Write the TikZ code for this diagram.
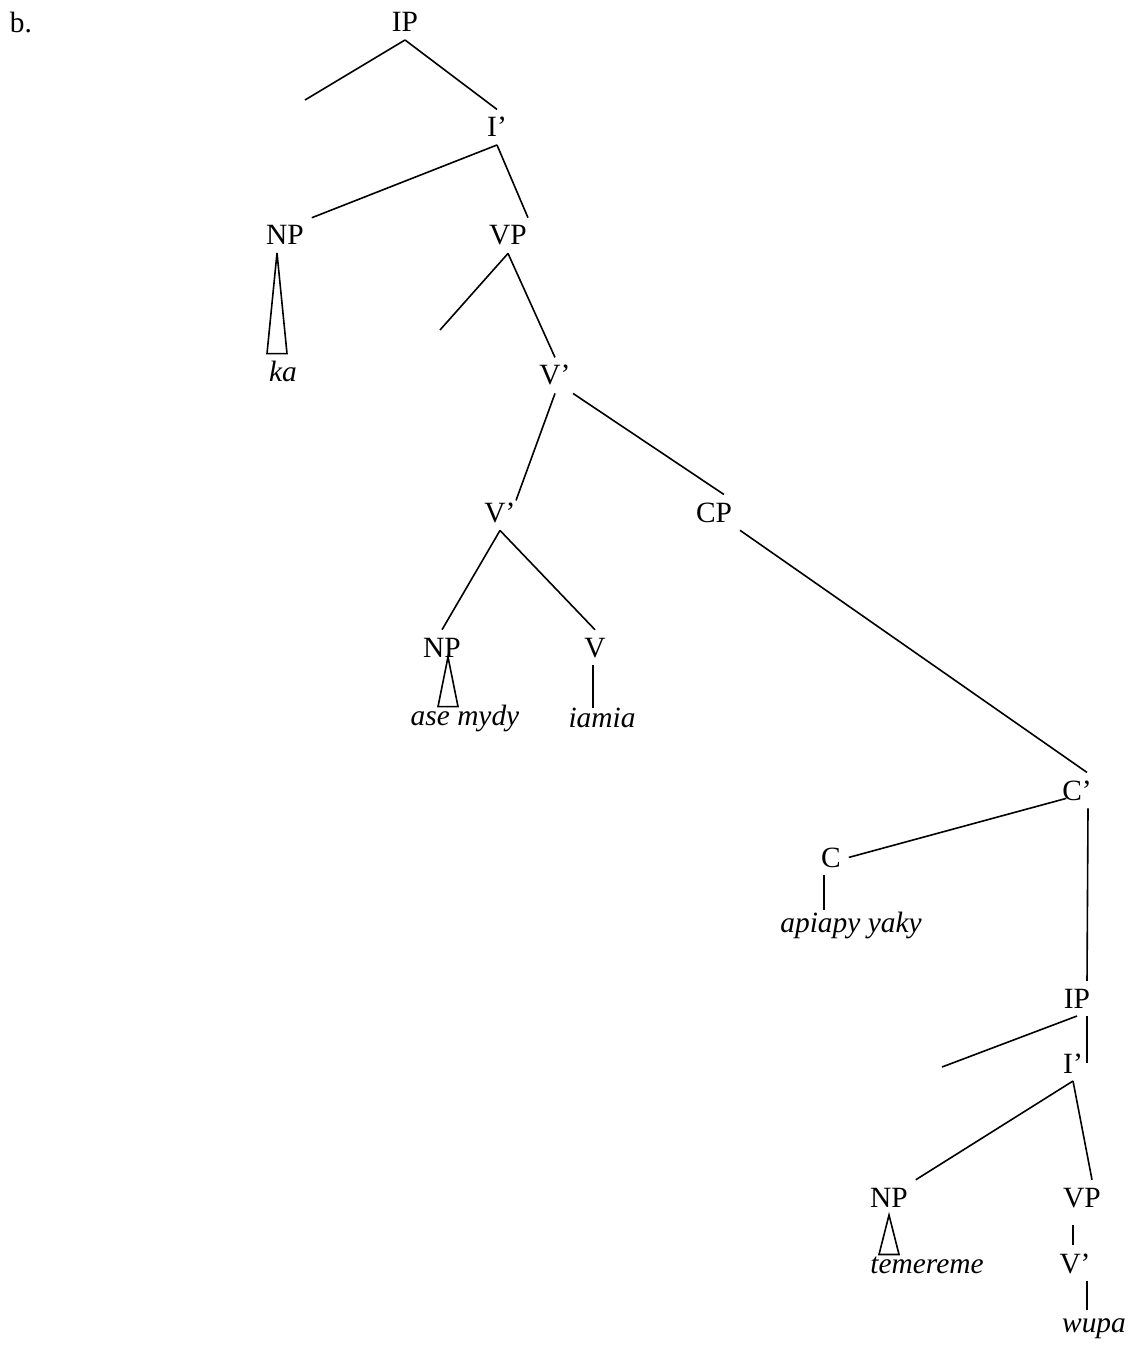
\documentclass[tikz,border=0pt]{standalone}
\usepackage{fontspec}
\setmainfont{Liberation Serif}
\usetikzlibrary{calc}

\begin{document}
\begin{tikzpicture}[x=0.5pt,y=-0.5pt,line width=0.8pt,
    cat/.style={anchor=base,inner sep=2pt,outer sep=2pt,font=\fontsize{14.7}{17}\selectfont},
    word/.style={cat,font=\fontsize{14.7}{17}\selectfont\itshape}]
    \useasboundingbox (0,0) rectangle (1131,1347);

    % Example label
    \node[cat] (lbl) at (21,33) {b.};

    % Matrix IP
    \node[cat] (ip1) at (405,32) {IP};
    \coordinate (spec1) at (305,100);
    \node[cat] (ibar1) at (497,137) {I’};
    \draw (ip1.south) -- (spec1);
    \draw (ip1.south) -- (ibar1.north);

    % Subject NP and VP
    \node[cat] (np1) at (285,245) {NP};
    \node[word] (ka) at (283,382) {ka};
    \node[cat] (vp1) at (508,245) {VP};
    \draw (ibar1.south) -- (np1.north east);
    \draw (ibar1.south) -- ($(vp1.north)+(10pt,0)$);
    \draw ($(np1.south)+(-4pt,0)$) -- ($(np1.south |- ka.north)+(-9pt,0)$)
        -- ($(np1.south |- ka.north)+(1pt,0)$) -- cycle;

    % Upper V'
    \coordinate (spec2) at (440,330);
    \node[cat] (vbar1) at (555,385) {V’};
    \draw (vp1.south) -- (spec2);
    \draw (vp1.south) -- (vbar1.north);

    % Lower V' and CP
    \node[cat] (vbar2) at (500,522) {V’};
    \node[cat] (cp) at (714,522) {CP};
    \draw (vbar1.south) -- ($(vbar2.north)+(8pt,-3pt)$);
    \draw ($(vbar1.south)+(9pt,0)$) -- ($(cp.north)+(5pt,0)$);

    % Object NP and verb
    \node[cat] (np2) at (442,657) {NP};
    \node[word] (asemydy) at (465,725) {ase mydy};
    \node[cat] (v) at (595,657) {V};
    \node[word] (iamia) at (602,727) {iamia};
    \draw (vbar2.south) -- (np2.north);
    \draw (vbar2.south) -- (v.north);
    \draw ($(np2.south)+(3pt,4pt)$) -- ($(np2.south |- asemydy.north)+(-2pt,-5pt)$)
        -- ($(np2.south |- asemydy.north)+(8pt,-5pt)$) -- cycle;
    \draw ($(v.south)+(-1pt,0)$) -- ($(v.south |- iamia.north)+(-1pt,-4pt)$);

    % Embedded CP
    \node[cat] (cbar) at (1077,800) {C’};
    \node[cat] (c) at (831,867) {C};
    \node[word] (apiapy) at (851,932) {apiapy yaky};
    \draw (cp.south east) -- ($(cbar.north)+(5pt,0)$);
    \draw ($(cbar.west)+(6pt,-4pt)$) -- (c.east);
    \draw ($(c.south)+(-3.5pt,0)$) -- ($(c.south |- apiapy.north)+(-3.5pt,-3pt)$);

    % Embedded IP
    \node[cat] (ip2) at (1077,1008) {IP};
    \coordinate (spec3) at (942,1067);
    \node[cat] (ibar2) at (1073,1073) {I’};
    \draw ($(cbar.south)+(5.5pt,0)$) -- ($(ip2.north)+(5pt,0)$);
    \draw (ip2.south) -- (spec3);
    \draw ($(ip2.south)+(5pt,0)$) -- ($(ip2.south |- ibar2.center)+(5pt,0)$);

    % Embedded subject and VP
    \node[cat] (np3) at (889,1207) {NP};
    \node[word] (temereme) at (927,1273) {temereme};
    \node[cat] (vp3) at (1082,1207) {VP};
    \node[cat] (vbar3) at (1075,1273) {V’};
    \node[word] (wupa) at (1094,1332) {wupa};
    \draw (ibar2.south) -- (np3.north east);
    \draw (ibar2.south) -- ($(vp3.north)+(5pt,0)$);
    \draw (np3.south) -- ($(np3.south |- temereme.north)+(-5pt,-3pt)$)
        -- ($(np3.south |- temereme.north)+(5pt,-3pt)$) -- cycle;
    \draw ($(vp3.south)+(-4.5pt,-5pt)$) -- ($(vbar3.north)+(-1pt,0)$);
    \draw ($(vbar3.south)+(6pt,0)$) -- ($(vbar3.south |- wupa.north)+(6pt,0)$);
\end{tikzpicture}
\end{document}
